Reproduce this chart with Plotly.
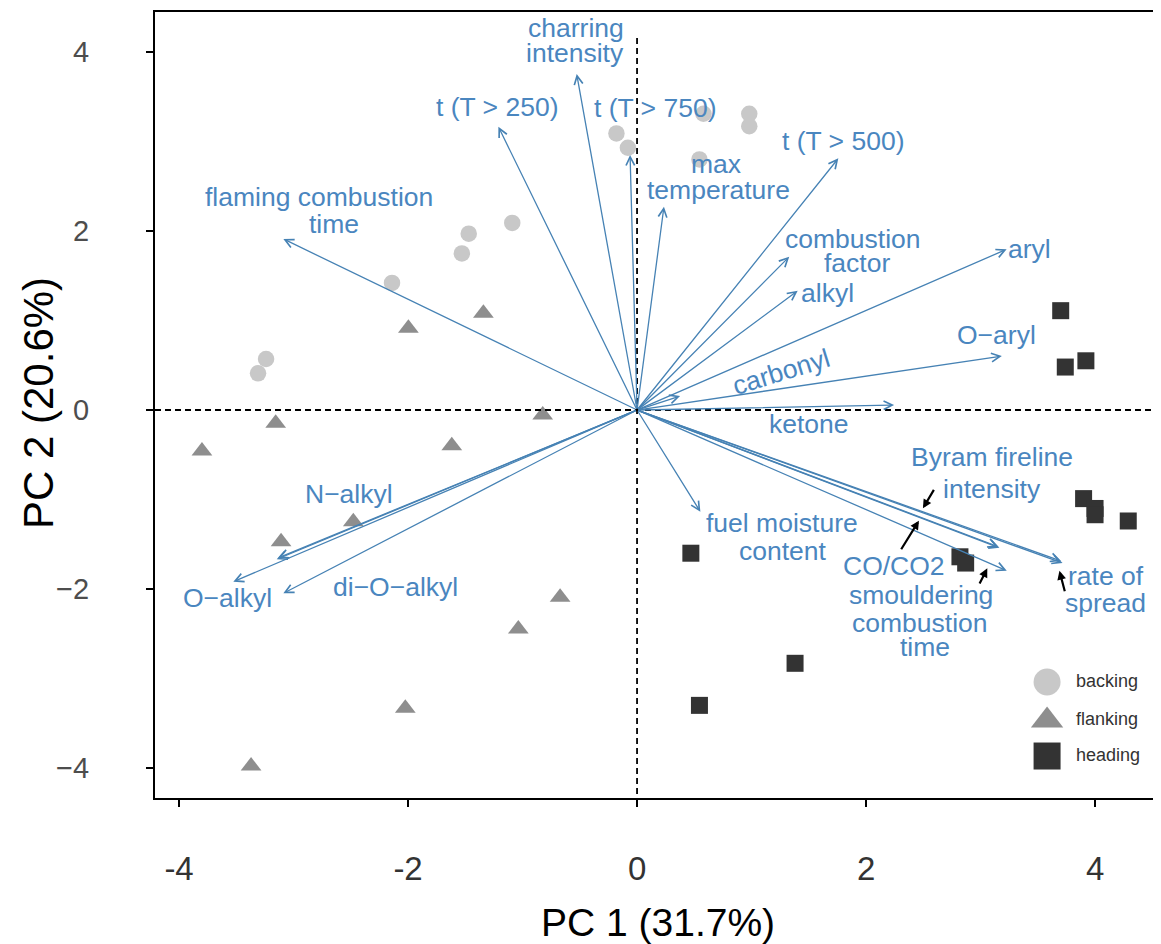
import plotly.graph_objects as go

# ---------------- sample scores (PC1, PC2) ----------------
backing_pc1 = [-0.18, -0.08, 0.58, 0.98, 0.98, 0.545, -1.09, -1.47, -1.53, -2.14, -3.24, -3.31]
backing_pc2 = [3.09, 2.93, 3.31, 3.31, 3.17, 2.80, 2.09, 1.97, 1.75, 1.42, 0.57, 0.41]
flanking_pc1 = [-1.342, -1.997, -0.824, -3.156, -3.80, -1.618, -2.478, -3.109, -0.672, -1.037, -2.024, -3.371]
flanking_pc2 = [1.080, 0.913, -0.056, -0.149, -0.458, -0.399, -1.248, -1.471, -2.093, -2.447, -3.333, -3.978]
heading_pc1 = [3.70, 3.92, 3.74, 3.90, 4.00, 4.00, 4.29, 0.47, 2.82, 2.87, 1.38, 0.545]
heading_pc2 = [1.11, 0.55, 0.48, -0.99, -1.10, -1.17, -1.24, -1.60, -1.64, -1.71, -2.83, -3.30]

# ---------------- variable loadings (arrow tips) ----------------
loading_names = ["flaming combustion time", "t (T > 250)", "charring intensity", "t (T > 750)",
                 "max temperature", "t (T > 500)", "combustion factor", "alkyl", "aryl", "O-aryl",
                 "carbonyl", "ketone", "fuel moisture content", "CO/CO2", "(unlabelled)",
                 "smouldering combustion time", "Byram fireline intensity", "rate of spread",
                 "N-alkyl", "(unlabelled)", "O-alkyl", "di-O-alkyl"]
loading_pc1 = [-3.089, -1.211, -0.527, -0.061, 0.235, 1.758, 1.329, 1.403, 3.228, 3.186,
               0.376, 2.245, 0.553, 3.155, 3.165, 3.229, 3.703, 3.716,
               -3.147, -3.135, -3.526, -3.089]
loading_pc2 = [1.911, 3.165, 3.754, 2.850, 2.272, 2.812, 1.713, 1.333, 1.796, 0.603,
               0.156, 0.056, -1.136, -1.527, -1.540, -1.796, -1.687, -1.709,
               -1.668, -1.652, -1.918, -2.048]

# ---------------- arrow labels (one entry per text line) ----------------
label_text = ["charring", "intensity", "t (T > 250)", "t (T > 750)", "t (T > 500)", "max", "temperature",
              "flaming combustion", "time", "combustion", "factor", "alkyl", "aryl", "O\u2212aryl",
              "carbonyl", "ketone", "fuel moisture", "content", "Byram fireline", "intensity",
              "CO/CO2", "smouldering", "combustion", "time", "rate of", "spread",
              "N\u2212alkyl", "O\u2212alkyl", "di\u2212O\u2212alkyl"]
label_x = [-0.537, -0.539, -1.217, 0.157, 1.801, 0.686, 0.714,
           -2.776, -2.648, 1.886, 1.921, 1.659, 3.431, 3.135,
           1.255, 1.502, 1.263, 1.279, 3.099, 3.099,
           2.243, 2.482, 2.475, 2.511, 4.099, 4.093,
           -2.513, -3.576, -2.109]
label_y = [4.268, 3.989, 3.382, 3.378, 3.009, 2.745, 2.458,
           2.383, 2.078, 1.911, 1.639, 1.304, 1.796, 0.838,
           0.428, -0.156, -1.259, -1.572, -0.528, -0.886,
           -1.740, -2.067, -2.377, -2.651, -1.851, -2.160,
           -0.942, -2.104, -1.974]
label_angle = [0] * 14 + [-17] + [0] * 14

# ---------------- black pointer arrows (tail -> tip) ----------------
ptr_tail_x = [2.600, 2.299, 2.985, 3.739]
ptr_tail_y = [-0.875, -1.572, -1.955, -2.041]
ptr_tip_x = [2.497, 2.462, 3.059, 3.689]
ptr_tip_y = [-1.098, -1.237, -1.769, -1.796]

# ---------------- legend ----------------
legend_names = ["backing", "flanking", "heading"]
legend_symbols = ["circle", "triangle-up", "square"]
legend_colors = ["#C8C8C8", "#8E8E8E", "#333333"]
legend_sizes = [27, 28, 27]
legend_key_x = 3.581
legend_text_x = 3.834
legend_y = [-3.039, -3.470, -3.866]

BLUE = "#4682B4"
TXT_BLUE = "#4A86BF"
FONT = "Liberation Sans, Arial, Helvetica, sans-serif"

fig = go.Figure()
fig.add_trace(go.Scatter(x=backing_pc1, y=backing_pc2, mode="markers", name="backing",
                         marker=dict(symbol="circle", size=16.5, color=legend_colors[0], line=dict(width=0))))
fig.add_trace(go.Scatter(x=flanking_pc1, y=flanking_pc2, mode="markers", name="flanking",
                         marker=dict(symbol="triangle-up", size=18, color=legend_colors[1], line=dict(width=0))))
fig.add_trace(go.Scatter(x=heading_pc1, y=heading_pc2, mode="markers", name="heading",
                         marker=dict(symbol="square", size=17, color=legend_colors[2], line=dict(width=0))))
# legend keys
for sym, col, sz, ly in zip(legend_symbols, legend_colors, legend_sizes, legend_y):
    fig.add_trace(go.Scatter(x=[legend_key_x], y=[ly], mode="markers", hoverinfo="skip", opacity=1,
                             marker=dict(symbol=sym, size=sz, color=col, opacity=1, line=dict(width=0))))
fig.add_trace(go.Scatter(x=[legend_text_x] * 3, y=legend_y, mode="text", text=legend_names,
                         textposition="middle right", hoverinfo="skip",
                         textfont=dict(family=FONT, size=18, color="#333333")))

ann = []
for nm, px, py in zip(loading_names, loading_pc1, loading_pc2):
    ann.append(dict(x=px, y=py, ax=0, ay=0, xref="x", yref="y", axref="x", ayref="y",
                    text="", showarrow=True, arrowhead=5, arrowsize=1.3, arrowwidth=1.3,
                    arrowcolor=BLUE, standoff=0, startstandoff=0))
for t, lx, ly, ang in zip(label_text, label_x, label_y, label_angle):
    ann.append(dict(x=lx, y=ly, xref="x", yref="y", text=t, showarrow=False,
                    xanchor="center", yanchor="middle", textangle=ang,
                    font=dict(family=FONT, size=26.5, color=TXT_BLUE)))
for tx, ty, hx, hy in zip(ptr_tail_x, ptr_tail_y, ptr_tip_x, ptr_tip_y):
    ann.append(dict(x=hx, y=hy, ax=tx, ay=ty, xref="x", yref="y", axref="x", ayref="y",
                    text="", showarrow=True, arrowhead=2, arrowsize=0.8, arrowwidth=2.2,
                    arrowcolor="black", standoff=0, startstandoff=0))
# axis titles
ann.append(dict(x=0.5, y=-0.158, xref="paper", yref="paper", text="PC 1 (31.7%)",
                showarrow=False, xanchor="center", yanchor="middle",
                font=dict(family=FONT, size=39, color="black")))
ann.append(dict(x=-0.1163, y=0.5025, xref="paper", yref="paper", text="PC 2 (20.6%)",
                showarrow=False, xanchor="center", yanchor="middle", textangle=-90,
                font=dict(family=FONT, size=42, color="black")))

shapes = [
    dict(type="line", xref="x", yref="y", x0=-4.21, x1=4.576, y0=0, y1=0,
         line=dict(color="black", width=1.8, dash="6px,4px"), layer="above"),
    dict(type="line", xref="x", yref="y", x0=0, x1=0, y0=4.156, y1=-4.335,
         line=dict(color="black", width=1.8, dash="6px,4px"), layer="above"),
]

# page body has an 8px margin, so the figure is 8px smaller and margins shifted accordingly
fig.update_layout(width=1153, height=936, margin=dict(l=147, r=0, t=4, b=146, autoexpand=False),
                  plot_bgcolor="white", paper_bgcolor="white", showlegend=False,
                  annotations=ann, shapes=shapes)
fig.update_xaxes(range=[-4.210, 4.576], showgrid=False, zeroline=False, showline=True,
                 linecolor="black", linewidth=2, mirror=True, ticks="outside", ticklen=7,
                 tickwidth=2, tickcolor="black", tickvals=[-4, -2, 0, 2, 4], automargin=False,
                 ticktext=["-4", "-2", "0", "2", "4"], ticklabelstandoff=33,
                 tickfont=dict(family=FONT, size=33, color="#333333"))
fig.update_yaxes(range=[-4.335, 4.447], showgrid=False, zeroline=False, showline=True,
                 linecolor="black", linewidth=2, mirror=True, ticks="outside", ticklen=7,
                 tickwidth=2, tickcolor="black", tickvals=[-4, -2, 0, 2, 4], automargin=False,
                 ticklabelstandoff=51, tickfont=dict(family=FONT, size=29, color="#4D4D4D"))

fig.write_html("out.html")
